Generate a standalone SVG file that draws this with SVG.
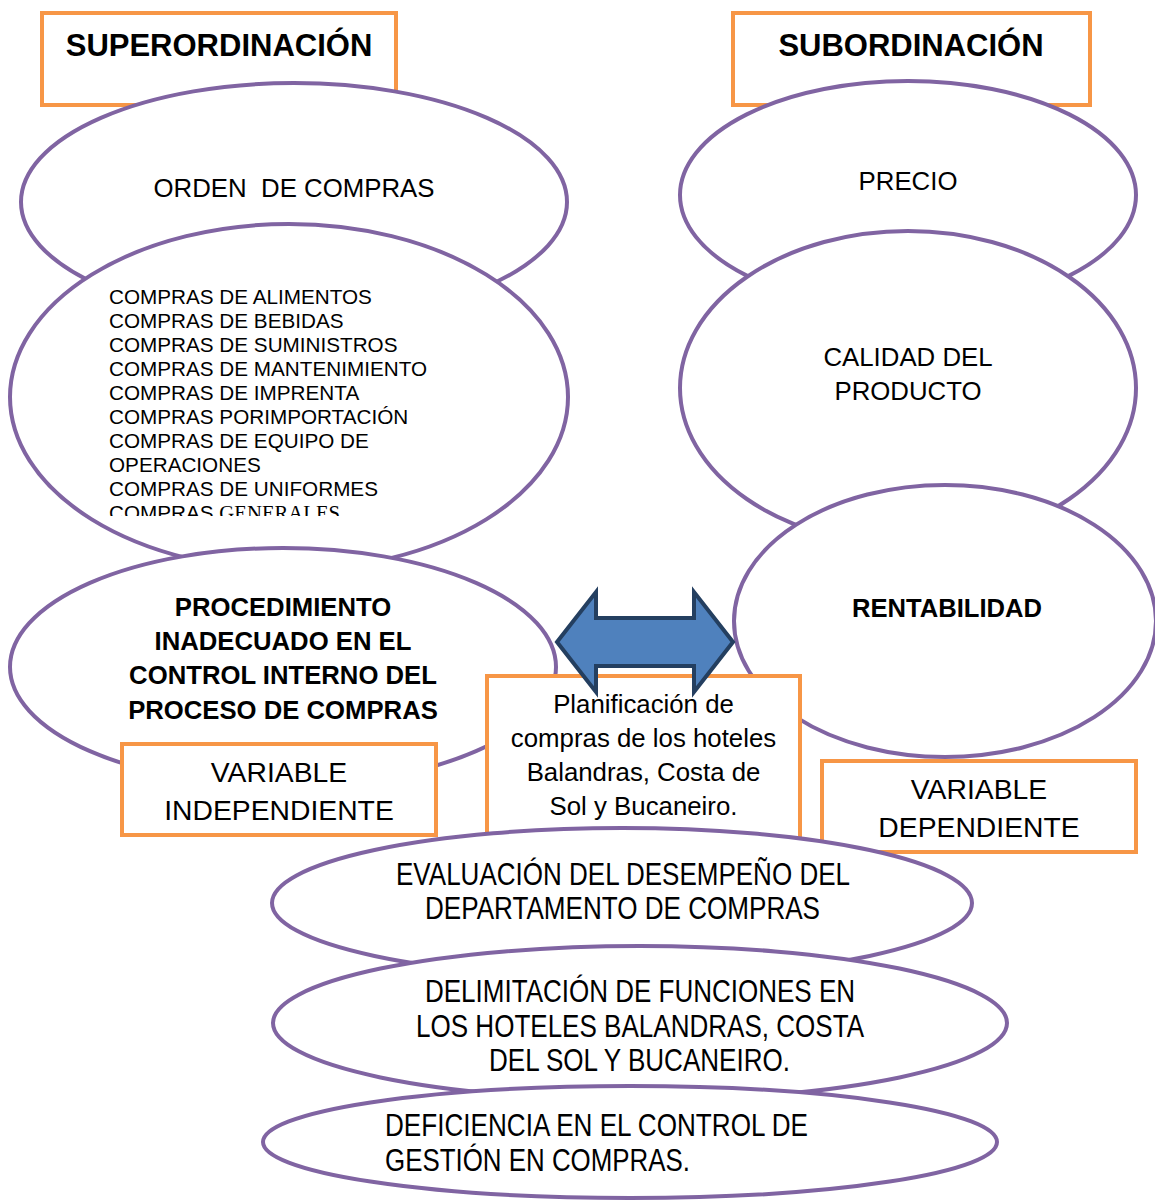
<svg xmlns="http://www.w3.org/2000/svg" width="1155" height="1200" viewBox="0 0 1155 1200">
<style>
.box{fill:#fff;stroke:#F79646;stroke-width:4}
.ell{fill:#fff;stroke:#8064A2;stroke-width:4}
.t{font-family:"Liberation Sans",Arial,sans-serif;fill:#000}
.c{text-anchor:middle}
.b{font-weight:bold}
.n{font-family:"Liberation Sans Narrow","Liberation Sans",Arial,sans-serif;font-size:31px;fill:#000}
.arrow{fill:#4F81BD;stroke:#243F60;stroke-width:4;stroke-linejoin:miter}
</style>
<defs>
<clipPath id="listclip"><rect x="0" y="270" width="600" height="246"/></clipPath>
</defs>
<rect width="1155" height="1200" fill="#fff"/>

<g id="superordinacion">
<rect class="box" x="42" y="13" width="354" height="92"/>
<text class="t c b" x="219" y="56" font-size="31">SUPERORDINACIÓN</text>
</g>
<g id="subordinacion">
<rect class="box" x="733" y="13" width="357" height="92"/>
<text class="t c b" x="911" y="56" font-size="31">SUBORDINACIÓN</text>
</g>

<g id="orden-compras">
<ellipse class="ell" cx="294" cy="202" rx="273" ry="119"/>
<text class="t c" x="294" y="197" font-size="25.8" style="white-space:pre">ORDEN  DE COMPRAS</text>
</g>
<g id="lista-compras">
<ellipse class="ell" cx="289" cy="397" rx="279" ry="173"/>
<g clip-path="url(#listclip)" class="t" font-size="20.7">
<text x="109" y="303.5">COMPRAS DE ALIMENTOS</text>
<text x="109" y="327.5">COMPRAS DE BEBIDAS</text>
<text x="109" y="351.5">COMPRAS DE SUMINISTROS</text>
<text x="109" y="375.5">COMPRAS DE MANTENIMIENTO</text>
<text x="109" y="399.5">COMPRAS DE IMPRENTA</text>
<text x="109" y="423.5">COMPRAS PORIMPORTACIÓN</text>
<text x="109" y="447.5">COMPRAS DE EQUIPO DE</text>
<text x="109" y="471.5">OPERACIONES</text>
<text x="109" y="495.5">COMPRAS DE UNIFORMES</text>
<text x="109" y="520">COMPRAS <tspan font-family="'Liberation Serif',serif">GENERALES</tspan></text>
</g>
</g>

<g id="precio">
<ellipse class="ell" cx="908" cy="195" rx="228" ry="114"/>
<text class="t c" x="908" y="190" font-size="25.8">PRECIO</text>
</g>
<g id="calidad">
<ellipse class="ell" cx="908" cy="388" rx="228" ry="157"/>
<text class="t c" x="908" y="366" font-size="25.8">CALIDAD DEL</text>
<text class="t c" x="908" y="400" font-size="25.8">PRODUCTO</text>
</g>
<g id="rentabilidad">
<ellipse class="ell" cx="945" cy="621" rx="211" ry="136"/>
<text class="t c b" x="947" y="617" font-size="25.6">RENTABILIDAD</text>
</g>

<g id="procedimiento">
<ellipse class="ell" cx="283" cy="667" rx="273" ry="119"/>
<text class="t c b" x="283" y="616" font-size="25.7">PROCEDIMIENTO</text>
<text class="t c b" x="283" y="650" font-size="25.7">INADECUADO EN EL</text>
<text class="t c b" x="283" y="684" font-size="25.7">CONTROL INTERNO DEL</text>
<text class="t c b" x="283" y="719" font-size="25.7">PROCESO DE COMPRAS</text>
</g>

<g id="variable-independiente">
<rect class="box" x="122" y="744" width="314" height="91"/>
<text class="t c" x="279" y="782" font-size="28.3">VARIABLE</text>
<text class="t c" x="279" y="820" font-size="28.3">INDEPENDIENTE</text>
</g>

<g id="planificacion">
<rect class="box" x="487" y="676" width="313" height="170"/>
<text class="t c" x="643.5" y="713" font-size="25.8">Planificación de</text>
<text class="t c" x="643.5" y="747" font-size="25.8">compras de los hoteles</text>
<text class="t c" x="643.5" y="781" font-size="25.8">Balandras, Costa de</text>
<text class="t c" x="643.5" y="815" font-size="25.8">Sol y Bucaneiro.</text>
</g>

<g id="connectors">
<path class="arrow" d="M557,642 L596,592 L596,618 L694,618 L694,592 L733,642 L694,692 L694,666 L596,666 L596,692 Z"/>
</g>

<g id="variable-dependiente">
<rect class="box" x="822" y="761" width="314" height="91"/>
<text class="t c" x="979" y="799" font-size="28.3">VARIABLE</text>
<text class="t c" x="979" y="837" font-size="28.3">DEPENDIENTE</text>
</g>

<g id="evaluacion">
<ellipse class="ell" cx="622" cy="903" rx="350" ry="75"/>
<text class="n" x="396" y="885" textLength="454" lengthAdjust="spacingAndGlyphs">EVALUACIÓN DEL DESEMPEÑO DEL</text>
<text class="n" x="425" y="919" textLength="395" lengthAdjust="spacingAndGlyphs">DEPARTAMENTO DE COMPRAS</text>
</g>
<g id="delimitacion">
<ellipse class="ell" cx="640" cy="1023" rx="367" ry="77"/>
<text class="n" x="425" y="1002" textLength="430" lengthAdjust="spacingAndGlyphs">DELIMITACIÓN DE FUNCIONES EN</text>
<text class="n" x="416" y="1037" textLength="448" lengthAdjust="spacingAndGlyphs">LOS HOTELES BALANDRAS, COSTA</text>
<text class="n" x="489" y="1071" textLength="301" lengthAdjust="spacingAndGlyphs">DEL SOL Y BUCANEIRO.</text>
</g>
<g id="deficiencia">
<ellipse class="ell" cx="630" cy="1142" rx="367" ry="56"/>
<text class="n" x="385" y="1136" textLength="423" lengthAdjust="spacingAndGlyphs">DEFICIENCIA EN EL CONTROL DE</text>
<text class="n" x="385" y="1171" textLength="305" lengthAdjust="spacingAndGlyphs">GESTIÓN EN COMPRAS.</text>
</g>
</svg>
